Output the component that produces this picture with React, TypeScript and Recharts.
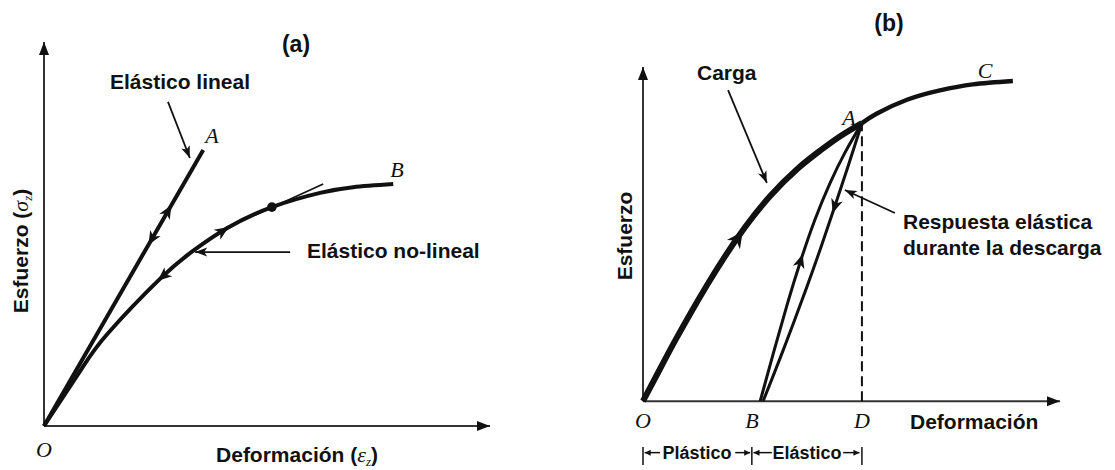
import React from 'react';
import { ComposedChart, Line, Scatter, XAxis, YAxis } from 'recharts';

type P = { x: number; y: number };
type Arrow = { x: number; y: number; fx: number; fy: number; kind: string };

// ---------------- Panel (a) data ----------------
const aAxisX: P[] = [{ x: 0, y: 0 }, { x: 100, y: 0 }];
const aAxisY: P[] = [{ x: 0, y: 0 }, { x: 0, y: 100 }];
const aLinear: P[] = [{ x: 0, y: 0 }, { x: 35.7, y: 71.9 }];
const aNonLinear: P[] = [
  { x: 0, y: 0 }, { x: 8.5, y: 15.0 }, { x: 14.3, y: 24.1 }, { x: 26.0, y: 38.3 },
  { x: 33.4, y: 45.6 }, { x: 41.0, y: 51.5 }, { x: 51.1, y: 57.0 }, { x: 61.9, y: 60.7 },
  { x: 69.3, y: 62.2 }, { x: 78.3, y: 63.0 },
];
const aTangent: P[] = [{ x: 47.3, y: 54.9 }, { x: 62.6, y: 63.0 }];
const aDot: P[] = [{ x: 51.1, y: 57.0 }];
const aPtrLinear: P[] = [{ x: 27.8, y: 84.4 }, { x: 32.7, y: 69.8 }];
const aPtrNonLinear: P[] = [{ x: 55.2, y: 45.3 }, { x: 33.9, y: 45.3 }];
const aArrows: Arrow[] = [
  { x: 100, y: 0, fx: 0, fy: 0, kind: 'axis' },
  { x: 0, y: 100, fx: 0, fy: 0, kind: 'axis' },
  { x: 27.8, y: 56.0, fx: 0, fy: 0, kind: 'mid' },
  { x: 24.2, y: 48.7, fx: 35.7, fy: 71.9, kind: 'mid' },
  { x: 40.1, y: 50.8, fx: 35.1, fy: 47.0, kind: 'mid' },
  { x: 26.7, y: 39.0, fx: 31.7, fy: 44.0, kind: 'mid' },
  { x: 32.7, y: 69.8, fx: 27.8, fy: 84.4, kind: 'ptr' },
  { x: 33.9, y: 45.3, fx: 55.2, fy: 45.3, kind: 'ptr' },
];

// ---------------- Panel (b) data ----------------
const bAxisX: P[] = [{ x: 0, y: 0 }, { x: 100, y: 0 }];
const bAxisY: P[] = [{ x: 0, y: 0 }, { x: 0, y: 100 }];
const bLoadOA: P[] = [
  { x: 0, y: 0 }, { x: 4.1, y: 9.7 }, { x: 7.7, y: 18.1 }, { x: 11.3, y: 26.1 },
  { x: 15.3, y: 34.6 }, { x: 19.7, y: 43.4 }, { x: 24.5, y: 52.1 }, { x: 30.5, y: 61.4 },
  { x: 37.2, y: 69.7 }, { x: 42.4, y: 74.9 }, { x: 47.2, y: 79.2 }, { x: 52.5, y: 83.2 },
];
const bLoadAC: P[] = [
  { x: 52.5, y: 83.2 }, { x: 56.0, y: 86.0 }, { x: 63.3, y: 90.2 }, { x: 71.2, y: 93.0 },
  { x: 79.1, y: 94.8 }, { x: 88.7, y: 95.8 },
];
const bReload: P[] = [
  { x: 28.1, y: 0 }, { x: 31.4, y: 15.0 }, { x: 34.5, y: 28.6 }, { x: 37.6, y: 41.2 },
  { x: 41.2, y: 54.2 }, { x: 44.8, y: 65.1 }, { x: 48.4, y: 74.3 }, { x: 52.5, y: 83.2 },
];
const bUnload: P[] = [
  { x: 28.8, y: 0 }, { x: 33.6, y: 15.2 }, { x: 39.3, y: 34.2 }, { x: 42.9, y: 46.9 },
  { x: 46.0, y: 58.3 }, { x: 49.2, y: 70.4 }, { x: 52.5, y: 83.2 },
];
const bDashed: P[] = [{ x: 52.5, y: 0 }, { x: 52.5, y: 83.2 }];
const bPtrCarga: P[] = [{ x: 20.4, y: 93.1 }, { x: 29.7, y: 65.3 }];
const bPtrResp: P[] = [{ x: 60.4, y: 56.3 }, { x: 48.4, y: 63.2 }];
const bDimBarsX: number[] = [0, 26.1, 52.5];
const bDimBarY: [number, number] = [-13.7, -19.1];
const bDimShafts: P[][] = [
  [{ x: 4.1, y: -15.4 }, { x: 0.4, y: -15.4 }],
  [{ x: 22.1, y: -15.4 }, { x: 25.7, y: -15.4 }],
  [{ x: 30.9, y: -15.4 }, { x: 26.5, y: -15.4 }],
  [{ x: 48.0, y: -15.4 }, { x: 51.9, y: -15.4 }],
];
const bArrows: Arrow[] = [
  { x: 100, y: 0, fx: 0, fy: 0, kind: 'axis' },
  { x: 0, y: 100, fx: 0, fy: 0, kind: 'axis' },
  { x: 22.8, y: 48.8, fx: 19.7, fy: 43.4, kind: 'midL' },
  { x: 37.8, y: 42.0, fx: 34.5, fy: 28.6, kind: 'mid' },
  { x: 46.0, y: 58.3, fx: 49.2, fy: 70.4, kind: 'mid' },
  { x: 29.7, y: 65.3, fx: 20.4, fy: 93.1, kind: 'ptr' },
  { x: 48.4, y: 63.2, fx: 60.4, fy: 56.3, kind: 'ptr' },
  { x: 0.4, y: -15.4, fx: 4.1, fy: -15.4, kind: 'dim' },
  { x: 25.7, y: -15.4, fx: 22.1, fy: -15.4, kind: 'dim' },
  { x: 26.5, y: -15.4, fx: 30.9, fy: -15.4, kind: 'dim' },
  { x: 51.9, y: -15.4, fx: 48.0, fy: -15.4, kind: 'dim' },
];

const SANS = "'Liberation Sans', Arial, sans-serif";
const SERIF = "'Liberation Serif', 'Times New Roman', serif";

function arrowShape(kx: number, ky: number) {
  return (props: any) => {
    const p = props.payload ?? props;
    const cx = props.cx;
    const cy = props.cy;
    const dx = (p.x - p.fx) * kx;
    const dy = -(p.y - p.fy) * ky;
    const ang = (Math.atan2(dy, dx) * 180) / Math.PI;
    let d = '';
    if (p.kind === 'axis') d = 'M0,0 L-13,-5 L-13,5 Z';
    else if (p.kind === 'ptr') d = 'M0,0 L-12,-4.5 L-9,0 L-12,4.5 Z';
    else if (p.kind === 'dim') d = 'M0,0 L-6,-3 L-6,3 Z';
    else if (p.kind === 'midL') d = 'M8,0 L-8,-8 L-3,0 L-8,8 Z';
    else d = 'M7,0 L-7,-6 L-3,0 L-7,6 Z';
    return <path d={d} transform={`translate(${cx},${cy}) rotate(${ang})`} fill="#111" />;
  };
}

const dotShape = (props: any) => <circle cx={props.cx} cy={props.cy} r={4.8} fill="#111" />;

type LineCfg = { data: P[]; w: number; type?: 'linear' | 'monotone' | 'natural'; dash?: string; color?: string };

function renderLines(cfgs: LineCfg[], prefix: string) {
  return cfgs.map((c, i) => (
    <Line
      key={`${prefix}${i}`}
      data={c.data}
      dataKey="y"
      type={c.type ?? 'linear'}
      stroke={c.color ?? '#111'}
      strokeWidth={c.w}
      strokeDasharray={c.dash}
      strokeLinejoin="round"
      dot={false}
      activeDot={false}
      isAnimationActive={false}
      legendType="none"
    />
  ));
}

// Chart (a) geometry
const A_W = 560;
const A_H = 470;
const A_M = { top: 42, right: 70, bottom: 44, left: 44 };
const A_KX = (A_W - A_M.left - A_M.right) / 100;
const A_KY = (A_H - A_M.top - A_M.bottom) / 100;

// Chart (b) geometry
const B_W = 555;
const B_H = 470;
const B_M = { top: 67, right: 55, bottom: 2, left: 83 };
const B_KX = (B_W - B_M.left - B_M.right) / 100;
const B_KY = (B_H - B_M.top - B_M.bottom) / 120;

const aLines: LineCfg[] = [
  { data: aAxisX, w: 2, color: '#333' },
  { data: aAxisY, w: 2, color: '#333' },
  { data: aLinear, w: 4 },
  { data: aNonLinear, w: 4, type: 'natural' },
  { data: aTangent, w: 1.6 },
  { data: aPtrLinear, w: 1.8 },
  { data: aPtrNonLinear, w: 1.8 },
];

const bLines: LineCfg[] = [
  { data: bAxisX, w: 2, color: '#333' },
  { data: bAxisY, w: 2, color: '#333' },
  { data: bDashed, w: 2, dash: '10 5' },
  { data: bLoadOA, w: 6, type: 'natural' },
  { data: bLoadAC, w: 4.5, type: 'natural' },
  { data: bReload, w: 3, type: 'natural' },
  { data: bUnload, w: 3, type: 'natural' },
  { data: bPtrCarga, w: 1.8 },
  { data: bPtrResp, w: 1.8 },
  ...bDimShafts.map((s) => ({ data: s, w: 1.5 })),
  ...bDimBarsX.map((x) => ({ data: [{ x, y: bDimBarY[0] }, { x, y: bDimBarY[1] }], w: 1.5 })),
];

const boldText = { fontFamily: SANS, fontWeight: 700, fontSize: 21, fill: '#111' } as const;
const italicText = { fontFamily: SERIF, fontStyle: 'italic', fontSize: 22, fill: '#111' } as const;
const greek = { fontFamily: SERIF, fontStyle: 'italic', fontWeight: 400, fontSize: 22 } as const;
const sub = { fontFamily: SERIF, fontStyle: 'italic', fontWeight: 400, fontSize: 13 } as const;

export default function App() {
  return (
    <div style={{ position: 'absolute', left: 0, top: 0, width: 1115, height: 470, background: '#fff' }}>
      <div style={{ position: 'absolute', left: 0, top: 0 }}>
        <ComposedChart width={A_W} height={A_H} margin={A_M}>
          <XAxis type="number" dataKey="x" domain={[0, 100]} hide />
          <YAxis type="number" dataKey="y" domain={[0, 100]} hide />
          {renderLines(aLines, 'a')}
          <Scatter data={aDot} dataKey="y" shape={dotShape} isAnimationActive={false} legendType="none" />
          <Scatter data={aArrows} dataKey="y" shape={arrowShape(A_KX, A_KY)} isAnimationActive={false} legendType="none" />
        </ComposedChart>
      </div>
      <div style={{ position: 'absolute', left: 560, top: 0 }}>
        <ComposedChart width={B_W} height={B_H} margin={B_M}>
          <XAxis type="number" dataKey="x" domain={[0, 100]} hide />
          <YAxis type="number" dataKey="y" domain={[-20, 100]} hide />
          {renderLines(bLines, 'b')}
          <Scatter data={bArrows} dataKey="y" shape={arrowShape(B_KX, B_KY)} isAnimationActive={false} legendType="none" />
        </ComposedChart>
      </div>
      <svg width={1115} height={470} style={{ position: 'absolute', left: 0, top: 0, pointerEvents: 'none' }}>
        {/* Panel (a) */}
        <text x={296} y={52} textAnchor="middle" style={{ ...boldText, fontSize: 23 }}>(a)</text>
        <text x={180} y={89} textAnchor="middle" style={boldText}>Elástico lineal</text>
        <text x={307} y={258} textAnchor="start" style={boldText}>Elástico no-lineal</text>
        <text x={212} y={143} textAnchor="middle" style={italicText}>A</text>
        <text x={397} y={177} textAnchor="middle" style={italicText}>B</text>
        <text x={44} y={457} textAnchor="middle" style={italicText}>O</text>
        <text x={297} y={462} textAnchor="middle" style={boldText}>
          Deformación (<tspan style={greek}>ε</tspan>
          <tspan dy={4} style={sub}>z</tspan>
          <tspan dy={-4}>)</tspan>
        </text>
        <text x={28} y={251} textAnchor="middle" transform="rotate(-90 28 251)" style={boldText}>
          Esfuerzo (<tspan style={greek}>σ</tspan>
          <tspan dy={4} style={sub}>z</tspan>
          <tspan dy={-4}>)</tspan>
        </text>
        {/* Panel (b) */}
        <text x={889} y={31} textAnchor="middle" style={{ ...boldText, fontSize: 23 }}>(b)</text>
        <text x={697} y={80} textAnchor="start" style={boldText}>Carga</text>
        <text x={849} y={125} textAnchor="middle" style={italicText}>A</text>
        <text x={985} y={78} textAnchor="middle" style={italicText}>C</text>
        <text x={903} y={229} textAnchor="start" style={boldText}>Respuesta elástica</text>
        <text x={903} y={255} textAnchor="start" style={boldText}>durante la descarga</text>
        <text x={643} y={428} textAnchor="middle" style={italicText}>O</text>
        <text x={752} y={428} textAnchor="middle" style={italicText}>B</text>
        <text x={862} y={428} textAnchor="middle" style={italicText}>D</text>
        <text x={910} y={429} textAnchor="start" style={boldText}>Deformación</text>
        <text x={632} y={236} textAnchor="middle" transform="rotate(-90 632 236)" style={boldText}>Esfuerzo</text>
        <text x={697} y={459} textAnchor="middle" style={{ ...boldText, fontSize: 18 }}>Plástico</text>
        <text x={807} y={459} textAnchor="middle" style={{ ...boldText, fontSize: 18 }}>Elástico</text>
      </svg>
    </div>
  );
}
